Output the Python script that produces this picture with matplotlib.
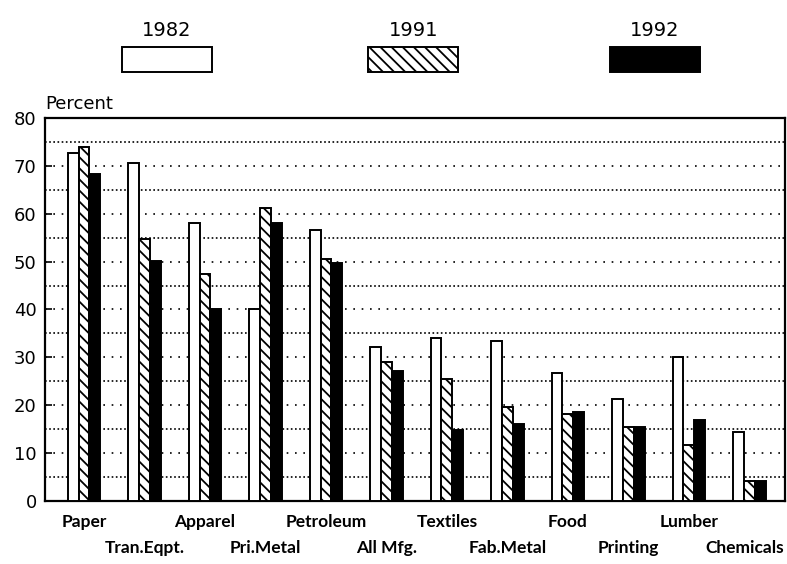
import matplotlib.pyplot as plt
import numpy as np
from matplotlib.patches import Rectangle

# ---------------------------------------------------------------------------
# Data (percent)
# ---------------------------------------------------------------------------
industries = ["Paper", "Tran.Eqpt.", "Apparel", "Pri.Metal", "Petroleum",
              "All Mfg.", "Textiles", "Fab.Metal", "Food", "Printing",
              "Lumber", "Chemicals"]
years = ["1982", "1991", "1992"]
v1982 = [72.6, 70.5, 58.0, 40.1, 56.6, 32.2, 34.1, 33.5, 26.8, 21.3, 30.0, 14.5]
v1991 = [74.0, 54.8, 47.5, 61.1, 50.5, 29.1, 25.4, 19.7, 18.1, 15.5, 11.7, 4.2]
v1992 = [68.3, 50.1, 40.1, 58.1, 49.8, 27.1, 14.8, 16.0, 18.5, 15.5, 16.9, 4.2]

y_ticks = [0, 10, 20, 30, 40, 50, 60, 70, 80]

MAIN_FONT = "DejaVu Sans"
LABEL_FONT = "Lato"
plt.rcParams["font.family"] = MAIN_FONT
plt.rcParams["hatch.linewidth"] = 1.3


def main() -> None:
    fig = plt.figure(figsize=(7.87, 5.64), dpi=100)
    ax = fig.add_axes([0.0572, 0.1117, 0.9403, 0.6791])

    x = np.arange(len(industries))
    w = 0.18
    styles = [
        dict(color="white", hatch=None),
        dict(color="white", hatch="\\\\\\"),
        dict(color="black", hatch=None),
    ]
    for k, (vals, st) in enumerate(zip([v1982, v1991, v1992], styles)):
        ax.bar(x + (k - 1) * w, vals, width=w, facecolor=st["color"],
               edgecolor="black", linewidth=1.4, hatch=st["hatch"], zorder=3)

    ax.set_xlim(-0.645, 11.59)
    ax.set_ylim(0, 80)
    ax.set_yticks(y_ticks)
    ax.set_yticklabels([str(t) for t in y_ticks], fontsize=13, family=MAIN_FONT)
    ax.tick_params(axis="y", direction="in", length=5, width=1.2, pad=6)
    ax.set_xticks([])

    # dotted grid every 5 percent
    for g in range(5, 80, 5):
        ls = (0, (1, 1.5)) if g % 10 else (0, (1, 4))
        ax.axhline(g, color="black", linewidth=1.2, linestyle=ls, zorder=1)

    for s in ax.spines.values():
        s.set_linewidth(1.6)

    # staggered category labels; the last one is kept inside the figure
    for i, name in enumerate(industries):
        yoff = -0.055 if i % 2 == 0 else -0.123
        if i == len(industries) - 1:
            xpos, ha = ax.get_xlim()[1] - 0.02, "right"
        else:
            xpos, ha = x[i], "center"
        ax.text(xpos, yoff, name, transform=ax.get_xaxis_transform(),
                ha=ha, va="center", fontsize=12.5, fontweight="bold",
                family=LABEL_FONT)

    fig.text(0.058, 0.815, "Percent", fontsize=13, ha="left", va="center",
             family=MAIN_FONT)

    # legend at the top
    leg_x = [0.212, 0.525, 0.832]
    box_w, box_h = 0.115, 0.044
    for xc, yr, st in zip(leg_x, years, styles):
        fig.text(xc, 0.946, yr, fontsize=14, ha="center", va="center",
                 family=MAIN_FONT)
        fig.patches.append(Rectangle((xc - box_w / 2, 0.873), box_w, box_h,
                                     transform=fig.transFigure,
                                     facecolor=st["color"], edgecolor="black",
                                     linewidth=1.4, hatch=st["hatch"]))

    fig.savefig("out.png", dpi=100)


if __name__ == "__main__":
    main()
